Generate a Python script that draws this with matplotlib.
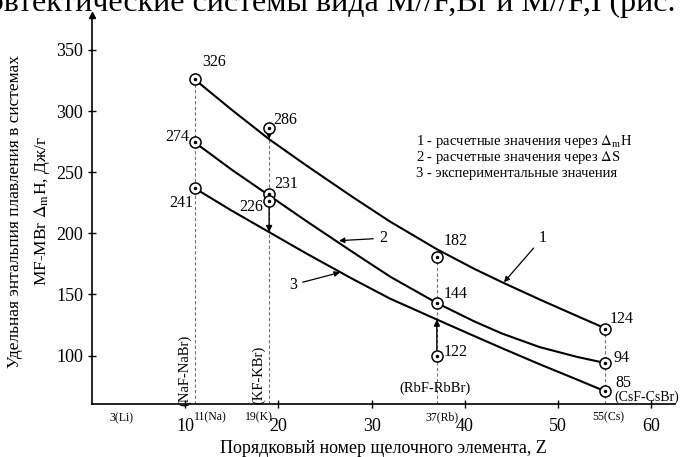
import matplotlib.pyplot as plt
import matplotlib
from matplotlib.transforms import blended_transform_factory

matplotlib.rcParams['font.family'] = ['Liberation Serif', 'DejaVu Serif']
matplotlib.rcParams['mathtext.fontset'] = 'stix'

# curves (Z, enthalpy)
z1 = [11, 15, 19, 23, 28, 32, 37, 41, 44, 48, 52, 55]
h1 = [326, 301, 277, 255.5, 229.5, 209.5, 187, 171, 160, 146, 132.5, 122.5]
z2 = [11, 15, 19, 23, 28, 32, 37, 41, 44, 48, 52, 55]
h2 = [274.5, 252, 231, 210, 184.5, 164.5, 143, 128, 118, 107, 99, 94]
z3 = [11, 15, 19, 23, 28, 32, 37, 41, 44, 48, 52, 55]
h3 = [237, 218.5, 201, 183.5, 162.5, 146.5, 129.5, 116, 106, 93, 80.5, 71]

# marked points and their printed labels
pz = [11, 11, 11, 19, 19, 19, 37, 37, 37, 55, 55, 55]
ph = [326, 274.5, 237, 286, 232, 226.5, 181, 143, 100, 122, 94, 71]
plabels = ["326", "274", "241", "286", "231", "226", "182", "144", "122", "124", "94", "85"]

elem_z = [3, 11, 19, 37, 55]
elem_labels = ["3(Li)", "11(Na)", "19(K)", "37(Rb)", "55(Cs)"]
vline_top = [None, 326, 286, 181, 122]

legend_lines = ["1 - расчетные значения через $\\Delta_{\\rm m}$H",
                "2 - расчетные значения через $\\Delta$S",
                "3 - экспериментальные значения"]

fig = plt.figure(figsize=(6.81, 4.57), dpi=100)
ax = fig.add_axes([0.1351, 0.1160, 0.8554, 0.8512])
ax.set_xlim(0, 62.5)
ax.set_ylim(60.4, 378.6)

for s in ['top', 'right']:
    ax.spines[s].set_visible(False)
ax.spines['left'].set_linewidth(1.2)
ax.spines['bottom'].set_linewidth(1.2)
ax.plot([0], [378.6], marker='^', color='k', markersize=5, clip_on=False)

ax.set_xticks([10, 20, 30, 40, 50, 60])
ax.set_yticks([100, 150, 200, 250, 300, 350])
ax.tick_params(direction='inout', length=6, width=1, labelsize=13)
ax.tick_params(axis='x', pad=7)

# dashed verticals
for z, top in zip(elem_z, vline_top):
    if top is not None:
        ax.plot([z, z], [60.4, top], ls=(0, (3, 2)), color='0.45', lw=0.8)

ax.plot(z1, h1, color='k', lw=1.5)
ax.plot(z2, h2, color='k', lw=1.5)
ax.plot(z3, h3, color='k', lw=1.5)

ax.plot(pz, ph, 'o', ms=8, mfc='white', mec='k', mew=1.1, zorder=5)
ax.plot(pz, ph, '.', ms=3, color='k', zorder=6)

# point labels
offs = [(0.8, 14, 'left'), (-0.6, 4, 'right'), (-0.15, -12, 'right'),
        (0.4, 6.7, 'left'), (0.5, 8, 'left'), (-0.65, -5, 'right'),
        (0.7, 12.7, 'left'), (0.7, 7, 'left'), (0.7, 3, 'left'),
        (0.5, 8, 'left'), (0.9, 4, 'left'), (1.1, 6.5, 'left')]
for z, h, t, (dx, dy, ha) in zip(pz, ph, plabels, offs):
    ax.text(z + dx, h + dy, t, ha=ha, va='center', fontsize=11.5)

# vertical arrows
arr = dict(arrowstyle='-|>', color='k', lw=1, mutation_scale=9, shrinkA=4, shrinkB=0)
ax.annotate('', xy=(19, 277), xytext=(19, 286), arrowprops=arr)
ax.annotate('', xy=(19, 201), xytext=(19, 226.5), arrowprops=arr)
ax.annotate('', xy=(37, 129.5), xytext=(37, 100), arrowprops=arr)

# curve numbers
arr2 = dict(arrowstyle='-|>', color='k', lw=0.9, mutation_scale=8, shrinkA=2, shrinkB=0)
ax.annotate('1', xy=(44.2, 160), xytext=(48.3, 196), fontsize=11.5, ha='center', va='center', arrowprops=arr2)
ax.annotate('2', xy=(26.5, 194), xytext=(31.2, 196), fontsize=11.5, ha='center', va='center', arrowprops=arr2)
ax.annotate('3', xy=(26.6, 168), xytext=(21.6, 158), fontsize=11.5, ha='center', va='center', arrowprops=arr2)

for i, line in enumerate(legend_lines):
    ax.text(34.8, 275.5 - i * 13.1, line, fontsize=10.5, va='center', ha='left')

# element labels under the axis
tr = blended_transform_factory(ax.transData, ax.transAxes)
ax.text(3.2, -0.036, elem_labels[0], transform=tr, ha='center', va='center', fontsize=8.5)
ax.text(10.9, -0.033, elem_labels[1], transform=tr, ha='left', va='center', fontsize=8.5)
ax.text(19.4, -0.033, elem_labels[2], transform=tr, ha='right', va='center', fontsize=8.5)
ax.text(37.5, -0.035, elem_labels[3], transform=tr, ha='center', va='center', fontsize=8.5)
ax.text(55.4, -0.035, elem_labels[4], transform=tr, ha='center', va='center', fontsize=8.5)

ax.text(9.9, 88, "(NaF-NaBr)", rotation=90, ha='center', va='center', fontsize=10.5)
ax.text(17.9, 84, "(KF-KBr)", rotation=90, ha='center', va='center', fontsize=10.5)
ax.text(36.8, 73.4, "(RbF-RbBr)", ha='center', va='center', fontsize=10.5)
ax.text(56.0, 66, "(CsF-CsBr)", ha='left', va='center', fontsize=10)

ax.set_xlabel("Порядковый номер щелочного элемента, Z", fontsize=13, labelpad=4)

fig.text(15 / 681, 1 - 212 / 457, "Удельная энтальпия плавления в системах",
         rotation=90, ha='center', va='center', fontsize=12.5)
fig.text(42 / 681, 1 - 211 / 457, "MF-MBr $\\Delta_{\\rm m}$H, Дж/г",
         rotation=90, ha='center', va='center', fontsize=12.5)

fig.text(-0.015, 1 - 11 / 457, "эвтектические системы вида M//F,Br и M//F,I (рис.", fontsize=23, va='baseline', ha='left')

fig.savefig("out.png", dpi=100)
